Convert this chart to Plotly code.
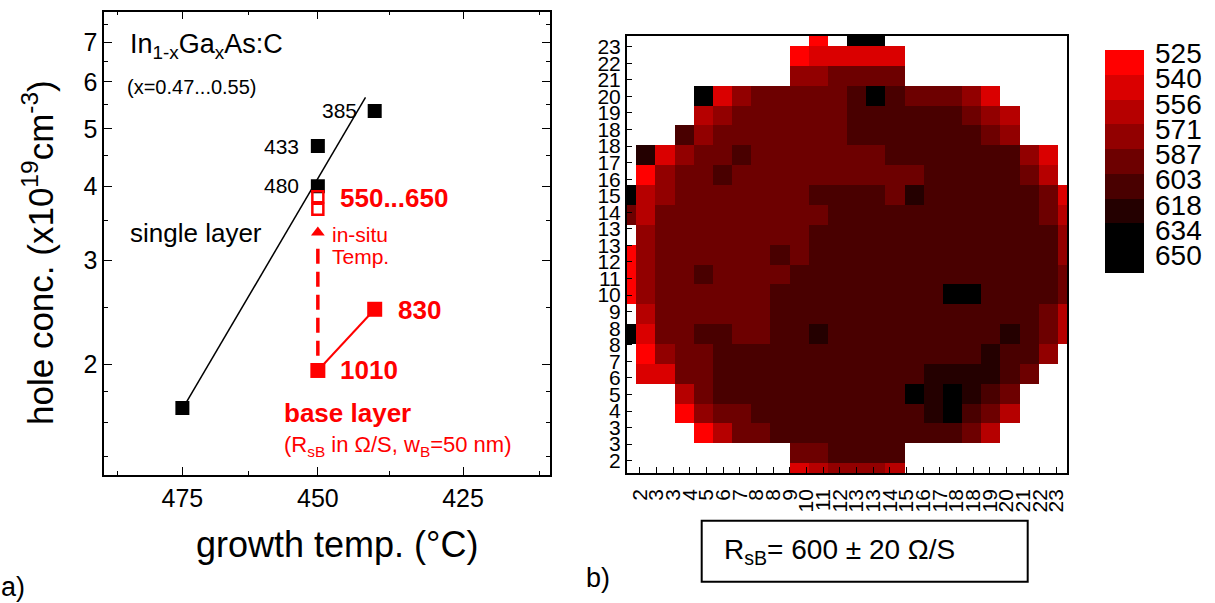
import plotly.graph_objects as go

W, H = 1215, 603
FONT = "Liberation Sans, Arial, sans-serif"
RED = "#FF0000"

# ---------------- panel a: hole concentration vs. growth temperature ----------------
single_T = [475, 450, 450, 440]          # growth temperature (deg C)
single_p = [1.69, 4.00, 4.68, 5.36]      # hole conc. (1e19 cm^-3)
single_rsb = ["", "480", "433", "385"]   # sheet resistance labels (Ohm/sq)
fit_T = [474.2, 441.6]
fit_p = [1.73, 5.65]

base_T = [450, 440]
base_p = [1.955, 2.48]
base_rsb = ["1010", "830"]
anneal_T = [450, 450]
anneal_p = [3.66, 3.84]
anneal_rsb = "550...650"
insitu_p = [2.07, 3.42]                  # in-situ anneal arrow: start, tip

temp_ticks = [475, 450, 425]
conc_ticks = [2, 3, 4, 5, 6, 7]

# ---------------- panel b: sheet resistance wafer map ----------------
# one string per row, top row first; groups of six columns; digit = colour class, '.' = no die
wafer_rows = [
    "...... ....0. 77.... ......",
    "...... ...011 111... ......",
    "...... ...334 444... ......",
    "....71 344444 575444 31....",
    "....23 444444 555555 432...",
    "...534 444444 555555 543...",
    ".61344 544444 445555 55531.",
    ".03445 444444 444455 55542.",
    "723444 444455 554655 555541",
    "424444 444445 555555 555542",
    ".34444 444455 555555 555553",
    "034444 445455 555555 555553",
    "034454 444555 555555 555554",
    "034444 445555 555557 755554",
    ".24444 445555 555555 555542",
    "714455 445565 555555 556542",
    ".03445 555555 555555 56553.",
    ".11445 555555 555566 6654..",
    "...245 555555 555767 654...",
    "...034 455555 555567 542...",
    "....02 445555 555555 42....",
    "...... ...445 555... ......",
    "...... ...123 332... ......",
]
# sheet resistance (Ohm/sq) representing each colour class
class_rsb = {"0": 533, "1": 548, "2": 564, "3": 580, "4": 595,
             "5": 611, "6": 627, "7": 642}

scale_labels = [525, 540, 556, 571, 587, 603, 618, 634, 650]
scale_colors = ["#FF0000", "#DA0000", "#B60000", "#920000", "#6D0000",
                "#490000", "#240000", "#000000", "#000000"]
scale_rsb = [533, 548, 564, 580, 595, 611, 627, 642, 658]
map_tick_text = ["2", "3", "3", "4", "5", "6", "7", "8", "8", "9", "10", "11", "12",
                 "13", "13", "14", "15", "16", "17", "18", "18", "19", "20", "21", "22", "23"]
rsb_summary = "R<sub>sB</sub>= 600 \u00b1 20 \u03a9/S"


def inv(t):
    """Arrhenius abscissa 1000/T(K) for a temperature in deg C."""
    return 1000.0 / (t + 273.15)


def px(x):
    return x / W


def py(y):
    return 1 - y / H


z = []
for row in reversed(wafer_rows):
    cells = row.replace(" ", "")
    assert len(cells) == 24
    z.append([class_rsb[c] if c in class_rsb else None for c in cells])

zmin = scale_labels[0]
step = (scale_labels[-1] - scale_labels[0]) / (len(scale_labels) - 1)
zmax = zmin + step * len(scale_labels)
n = len(scale_colors)
cscale = []
for i, c in enumerate(scale_colors):
    cscale.append([i / n, c])
    cscale.append([(i + 1) / n, c])

fig = go.Figure()

# fit line and single-layer points
fig.add_trace(go.Scatter(x=[inv(t) for t in fit_T], y=fit_p, mode="lines",
                         line=dict(color="black", width=1.5), xaxis="x", yaxis="y",
                         showlegend=False, hoverinfo="skip"))
fig.add_trace(go.Scatter(x=[inv(t) for t in single_T], y=single_p, mode="markers",
                         marker=dict(symbol="square", size=14, color="black"),
                         xaxis="x", yaxis="y", showlegend=False))

# in-situ anneal arrow (dashed shaft + head)
tip = insitu_p[1]
shaft_end = tip / 10 ** (17 / 592.4)
head_c = tip / 10 ** (6 / 592.4)
fig.add_trace(go.Scatter(x=[inv(450), inv(450)], y=[insitu_p[0], shaft_end], mode="lines",
                         line=dict(color=RED, width=3.5, dash="15px,8px"),
                         xaxis="x", yaxis="y", showlegend=False, hoverinfo="skip"))
fig.add_trace(go.Scatter(x=[inv(450)], y=[head_c], mode="markers",
                         marker=dict(symbol="triangle-up", size=12, color=RED),
                         xaxis="x", yaxis="y", showlegend=False, hoverinfo="skip"))

# base layer points
fig.add_trace(go.Scatter(x=[inv(t) for t in base_T], y=base_p, mode="lines+markers",
                         line=dict(color=RED, width=2),
                         marker=dict(symbol="square", size=15, color=RED),
                         xaxis="x", yaxis="y", showlegend=False))
fig.add_trace(go.Scatter(x=[inv(t) for t in anneal_T], y=anneal_p, mode="markers",
                         marker=dict(symbol="square-open", size=11, color=RED,
                                     line=dict(width=2.5, color=RED)),
                         xaxis="x", yaxis="y", showlegend=False))

# wafer map
fig.add_trace(go.Heatmap(z=z, x=list(range(24)), y=list(range(23)),
                         colorscale=cscale, zmin=zmin, zmax=zmax, showscale=False,
                         xaxis="x2", yaxis="y2", hoverongaps=False))

# colour scale strip
fig.add_trace(go.Heatmap(z=[[v] for v in scale_rsb], x=[0], y=list(range(n)),
                         colorscale=cscale, zmin=zmin, zmax=zmax, showscale=False,
                         xaxis="x3", yaxis="y3", hoverinfo="skip"))

ann = []


def text(x, y, s, size, color="black", xanchor="left", bold=False, angle=0):
    if bold:
        s = "<b>" + s + "</b>"
    ann.append(dict(x=px(x), y=py(y), xref="paper", yref="paper", text=s,
                    showarrow=False, xanchor=xanchor, yanchor="middle", textangle=angle,
                    font=dict(family=FONT, size=size, color=color)))


# panel a texts
text(128, 46, "In<sub>1-x</sub>Ga<sub>x</sub>As:C", 27)
text(125, 87, "(x=0.47...0.55)", 20)
text(128, 233, "single layer", 26)
text(320, 111, single_rsb[3], 21)
text(262, 146, single_rsb[2], 21)
text(262, 186, single_rsb[1], 21)
text(338, 198, anneal_rsb, 26, RED, bold=True)
text(330, 234, "in-situ", 21, RED)
text(330, 257, "Temp.", 21, RED)
text(396, 310, base_rsb[1], 26, RED, bold=True)
text(338, 370, base_rsb[0], 26, RED, bold=True)
text(282, 413, "base layer", 26, RED, bold=True)
text(282, 446, "(R<sub>sB</sub> in \u03a9/S, w<sub>B</sub>=50 nm)", 22, RED)
text(337, 544, "growth temp. (\u00b0C)", 36, xanchor="center")
text(38, 253, "hole conc. (x10<sup>19</sup>cm<sup>-3</sup>)", 35, xanchor="center", angle=-90)
text(-1, 587, "a)", 27)

# panel b texts
text(584, 578, "b)", 27)
text(722, 551, rsb_summary, 28)
for i, lab in enumerate(scale_labels):
    text(1153, 53.5 + 25.3 * i, str(lab), 28)

shapes = [dict(type="rect", xref="paper", yref="paper",
               x0=px(701.7), x1=px(1027.7), y0=py(581.7), y1=py(520.7),
               line=dict(color="black", width=2))]

map_xtick_pos = [0.694 + 0.870 * k for k in range(26)]
map_ytick_pos = [0.619 + 0.8337 * k for k in range(26)]

axis_font = dict(family=FONT, size=25, color="black")
map_font = dict(family=FONT, size=21, color="black")

fig.update_layout(
    width=W, height=H, margin=dict(l=0, r=0, t=0, b=0),
    paper_bgcolor="white", plot_bgcolor="white",
    font=dict(family=FONT, color="black"),
    annotations=ann, shapes=shapes,
    xaxis=dict(domain=[px(104.1), px(549.9)], range=[inv(490.25), inv(410.85)],
               tickmode="array", tickvals=[inv(t) for t in temp_ticks],
               ticktext=[str(t) for t in temp_ticks], tickfont=axis_font,
               ticks="inside", ticklen=8, tickwidth=1.2, tickcolor="black",
               minor=dict(tickmode="array", tickvals=[inv(t) for t in (487.5, 462.5, 437.5, 412.5)],
                          ticks="inside", ticklen=4, tickwidth=1, tickcolor="black"),
               showline=True, linecolor="black", linewidth=1.5, mirror="ticks",
               showgrid=False, zeroline=False, anchor="y"),
    yaxis=dict(domain=[py(475), py(11.5)], type="log", range=[0.1147, 0.8971],
               tickmode="array", tickvals=conc_ticks, ticktext=[str(v) for v in conc_ticks],
               tickfont=axis_font, ticks="inside", ticklen=8, tickwidth=1.2, tickcolor="black",
               minor=dict(tickmode="array", tickvals=[1.4, 1.6, 1.8, 2.5, 3.5, 4.5, 5.5, 6.5, 7.5],
                          ticks="inside", ticklen=4, tickwidth=1, tickcolor="black"),
               showline=True, linecolor="black", linewidth=1.5, mirror="ticks",
               showgrid=False, zeroline=False, anchor="x"),
    xaxis2=dict(domain=[px(626.7), px(1067.3)], range=[0, 23],
                tickmode="array", tickvals=map_xtick_pos, ticktext=map_tick_text,
                tickangle=-90, tickfont=map_font, ticks="inside", ticklen=6,
                ticklabelstandoff=6,
                tickwidth=1, tickcolor="black", showline=True, linecolor="black",
                linewidth=1.5, mirror=True, showgrid=False, zeroline=False, anchor="y2"),
    yaxis2=dict(domain=[py(473), py(36)], range=[0, 22],
                tickmode="array", tickvals=map_ytick_pos, ticktext=map_tick_text,
                tickfont=map_font, ticks="inside", ticklen=6,
                tickwidth=1, tickcolor="black", showline=True, linecolor="black",
                linewidth=1.5, mirror=True, showgrid=False, zeroline=False, anchor="x2"),
    xaxis3=dict(domain=[px(1105), px(1144)], range=[-0.5, 0.5], visible=False, anchor="y3"),
    yaxis3=dict(domain=[py(273.3), py(50)], range=[n - 0.5, -0.5], visible=False, anchor="x3"),
)

fig.write_html("out.html")
